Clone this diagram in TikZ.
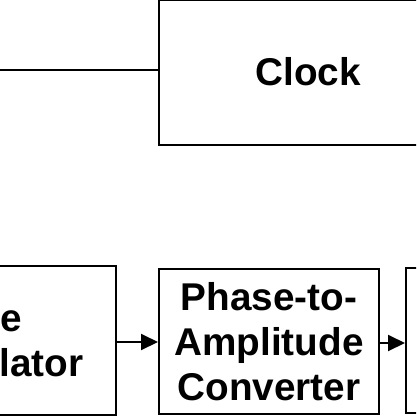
\documentclass[tikz,border=0pt]{standalone}
\usepackage{fontspec}
\setmainfont{Liberation Sans}
\usetikzlibrary{arrows.meta}
\usetikzlibrary{positioning}
\usetikzlibrary{calc}

\begin{document}
\begin{tikzpicture}[x=1pt,y=-1pt]
  \tikzset{
    block/.style={draw,line width=2pt,align=center,inner sep=0pt,
      font=\fontsize{38.7}{45}\selectfont\bfseries},
    link/.style={line width=2pt,-{Triangle[length=17pt,width=16pt]}}
  }
    \useasboundingbox (0,0) rectangle (416,416);
    \clip (0,0) rectangle (416,416);

    %CLOCK
    \node[block,minimum width=298pt,minimum height=145pt] (clock) at (308,72) {Clock};
    \coordinate (clkin) at (-10,70);
    \draw[line width=2pt] (clkin) -- (clkin -| clock.west);

    %CHAIN
    \node[block,minimum width=302pt,minimum height=149pt] (accu) at (-35,340.5) {Phase\\Accumulator};
    \node[block,minimum width=220pt,minimum height=145pt] (pac) at (269,341.5) {Phase-to-\\Amplitude\\Converter};
    \node[block,minimum width=220pt,minimum height=145pt] (dac) at (516,340.5) {};

    \coordinate (a1) at ($(accu.east)+(0,1.5)$);
    \coordinate (a2) at ($(pac.east)+(0,1.5)$);
    \draw[link] (a1) -- (a1 -| pac.west);
    \draw[link] (a2) -- (a2 -| dac.west);
  \end{tikzpicture}
\end{document}
